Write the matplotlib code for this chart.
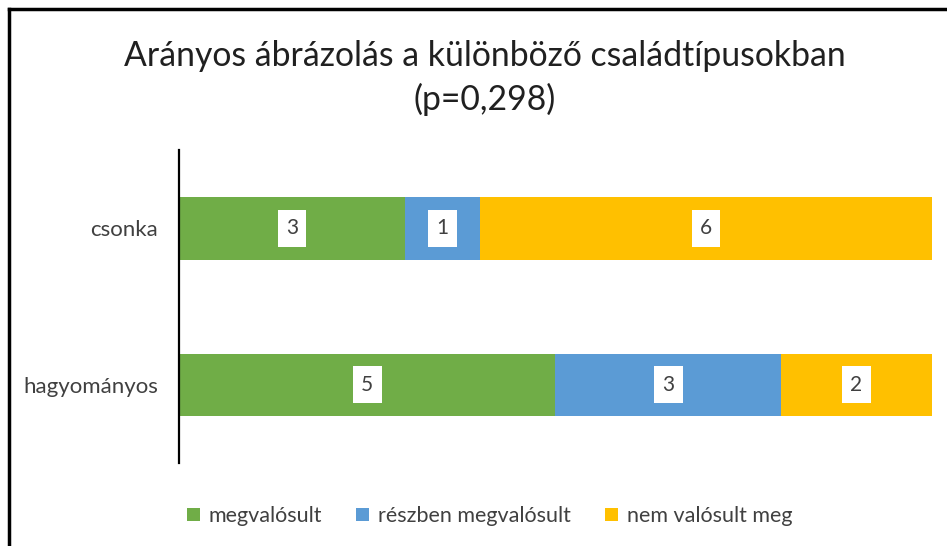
import numpy as np
import matplotlib
matplotlib.use('Agg')
import matplotlib.pyplot as plt
from matplotlib.lines import Line2D
from matplotlib.patches import Patch

plt.rcParams['font.family'] = ['Lato', 'DejaVu Sans']

# ── Data ──────────────────────────────────────────────────────
categories = ['hagyományos', 'csonka']
megvalosult = [5, 3]
reszben = [3, 1]
nem_valosult = [2, 6]
series_names = ['megvalósult', 'részben megvalósult', 'nem valósult meg']

GREEN = '#70AD47'
BLUE = '#5B9BD5'
GOLD = '#FFC000'
TEXT = '#404040'

fig = plt.figure(figsize=(9.47, 5.46), dpi=100)
ax = fig.add_axes([0.189, 0.152, 0.795, 0.573])

series = [megvalosult, reszben, nem_valosult]
colors = [GREEN, BLUE, GOLD]
totals = np.sum(series, axis=0)
y = np.arange(len(categories))
left = np.zeros(len(categories))
for vals, col, name in zip(series, colors, series_names):
    share = np.array(vals) / totals
    bars = ax.barh(y, share, left=left, height=0.4, color=col, label=name)
    for bar, v in zip(bars, vals):
        ax.text(bar.get_x() + bar.get_width() / 2, bar.get_y() + bar.get_height() / 2,
                f'{v}', ha='center', va='center', fontsize=15, color=TEXT,
                bbox=dict(boxstyle='square,pad=0.4', fc='white', ec='none'))
    left += share

ax.set_xlim(0, 1)
ax.set_ylim(-0.5, 1.5)
ax.set_yticks(y)
ax.set_yticklabels(categories, fontsize=16, color=TEXT)
ax.tick_params(axis='y', length=0, pad=15)
ax.set_xticks([])
ax.spines[['top', 'right', 'bottom']].set_visible(False)
ax.spines['left'].set_linewidth(1.6)
ax.spines['left'].set_color('black')

fig.text(0.512, 0.858, 'Arányos ábrázolás a különböző családtípusokban\n(p=0,298)',
         ha='center', va='center', fontsize=24.3, color='#202020', linespacing=1.4)

handles = [Patch(facecolor=c, edgecolor='none') for c in colors]
fig.legend(handles, series_names, loc='center', bbox_to_anchor=(0.517, 0.055),
           ncol=3, frameon=False, fontsize=15.5, handlelength=0.6, handleheight=0.6,
           handletextpad=0.4, columnspacing=1.6, labelcolor=TEXT)

# outer frame (only top and left edges are visible in the crop)
fig.add_artist(Line2D([0.0095, 0.0095], [0, 0.983], color='black', lw=2.5,
                      transform=fig.transFigure))
fig.add_artist(Line2D([0.0095, 1], [0.983, 0.983], color='black', lw=2.5,
                      transform=fig.transFigure))

fig.savefig('out.png', dpi=100)
